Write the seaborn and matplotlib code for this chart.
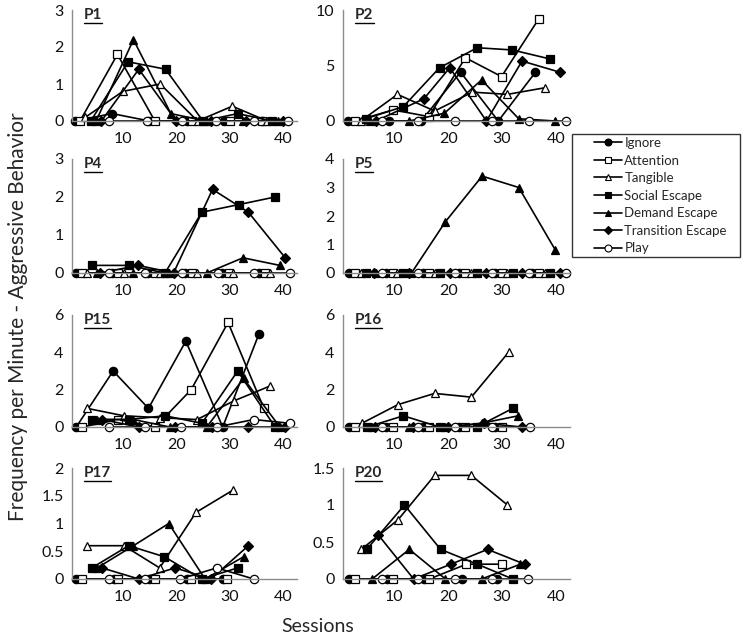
import matplotlib
matplotlib.use("Agg")
import matplotlib.pyplot as plt
from matplotlib.lines import Line2D
from matplotlib.patches import Rectangle
import seaborn as sns
import pandas as pd

# Conditions, legend order
CONDITIONS = ["Ignore", "Attention", "Tangible", "Social Escape",
              "Demand Escape", "Transition Escape", "Play"]

# marker, face colour
STYLE = {
    "Ignore": ("o", "black"),
    "Attention": ("s", "white"),
    "Tangible": ("^", "white"),
    "Social Escape": ("s", "black"),
    "Demand Escape": ("^", "black"),
    "Transition Escape": ("D", "black"),
    "Play": ("o", "white"),
}

# --- data per participant: condition -> (sessions, rate) ---
P1 = {
    "Ignore": ([1, 8, 15, 22, 29, 36], [0, 0.2, 0, 0, 0, 0]),
    "Attention": ([2, 9, 16, 23, 30, 36], [0, 1.8, 0, 0, 0, 0]),
    "Tangible": ([3, 10, 17, 24, 30.5, 37], [0.1, 0.8, 1.0, 0, 0.4, 0]),
    "Social Escape": ([4, 11, 18, 25, 31.5, 38], [0, 1.6, 1.4, 0, 0.2, 0]),
    "Demand Escape": ([5, 12, 19, 25.5, 32.5, 39], [0, 2.2, 0.2, 0, 0, 0]),
    "Transition Escape": ([6, 13, 20, 26.5, 33, 40], [0, 1.4, 0, 0, 0, 0]),
    "Play": ([7.5, 14.5, 21, 27.5, 34.5, 41], [0, 0, 0, 0, 0, 0]),
}
P2 = {
    "Ignore": ([1.5, 9, 15, 22.3, 29.3, 36.2], [0, 0, 0, 4.4, 0, 4.4]),
    "Attention": ([2.8, 9.8, 16.4, 23.2, 29.9, 36.8], [0, 1.0, 0.4, 5.7, 4.0, 9.2]),
    "Tangible": ([3.8, 10.6, 17.5, 24.5, 31, 38], [0, 2.4, 0.9, 2.6, 2.4, 3.0]),
    "Social Escape": ([4.7, 11.7, 18.4, 25.4, 31.9, 38.8], [0.2, 1.3, 4.8, 6.6, 6.4, 5.6]),
    "Demand Escape": ([5.6, 12.8, 19.3, 26.2, 33.1, 39.9], [0, 0, 0.7, 3.7, 0.2, 0]),
    "Transition Escape": ([6.6, 15.5, 20.3, 27.1, 33.7, 40.7], [0, 2.0, 4.8, 0, 5.4, 4.4]),
    "Play": ([7.8, 14.5, 21.3, 28.2, 35, 41.8], [0, 0, 0, 0, 0, 0]),
}
P4 = {
    "Ignore": ([1.3, 8, 14.8, 21.7, 28.5, 35.4], [0, 0, 0, 0, 0, 0]),
    "Attention": ([2.4, 9.2, 16.1, 22.9, 29.8, 36.6], [0, 0, 0, 0, 0, 0]),
    "Tangible": ([3.3, 10.2, 17, 23.9, 30.7, 37.6], [0, 0, 0, 0, 0, 0]),
    "Social Escape": ([4.2, 11.1, 17.9, 24.8, 31.7, 38.5], [0.2, 0.2, 0, 1.6, 1.8, 2.0]),
    "Demand Escape": ([5.2, 12, 18.6, 25.7, 32.5, 39.4], [0, 0, 0, 0, 0.4, 0.2]),
    "Transition Escape": ([5.8, 12.9, 19.5, 26.8, 33.5, 40.4], [0, 0.2, 0, 2.2, 1.6, 0.4]),
    "Play": ([7.4, 14.2, 21, 27.9, 34.5, 41.3], [0, 0, 0, 0, 0, 0]),
}
P5 = {
    "Ignore": ([1.6, 8.4, 15.3, 22, 28.7, 35.6], [0, 0, 0, 0, 0, 0]),
    "Attention": ([2.8, 9.7, 16.5, 23.2, 29.9, 36.8], [0, 0, 0, 0, 0, 0]),
    "Tangible": ([3.8, 10.6, 17.5, 24.3, 31, 38], [0, 0, 0, 0, 0, 0]),
    "Social Escape": ([4.7, 11.7, 18.4, 25.3, 32, 38.8], [0, 0, 0, 0, 0, 0]),
    "Demand Escape": ([6.6, 13.2, 19.5, 26.3, 33.1, 39.9], [0, 0, 1.8, 3.4, 3.0, 0.8]),
    "Transition Escape": ([6.2, 12.8, 20.3, 27.1, 33.7, 40.7], [0, 0, 0, 0, 0, 0]),
    "Play": ([7.8, 14.5, 21.3, 28.2, 35, 41.8], [0, 0, 0, 0, 0, 0]),
}
P15 = {
    "Ignore": ([1.3, 8.2, 14.8, 21.8, 28.7, 35.5], [0, 3.0, 1.0, 4.6, 0, 5.0]),
    "Attention": ([2.4, 9.2, 16.1, 22.8, 29.7, 36.4], [0, 0.4, 0, 2.0, 5.6, 1.0]),
    "Tangible": ([3.3, 10.2, 16.9, 23.9, 30.8, 37.6], [1.0, 0.6, 0.5, 0.4, 1.4, 2.2]),
    "Social Escape": ([4.2, 11.1, 17.9, 24.8, 31.5, 38.5], [0.4, 0.4, 0.6, 0.2, 3.0, 0]),
    "Demand Escape": ([5.2, 12, 18.8, 25.7, 32.6, 39.4], [0.4, 0.4, 0, 0, 2.6, 0]),
    "Transition Escape": ([6.1, 13, 19.8, 26.7, 33.5, 40.4], [0.4, 0, 0, 0, 0, 0]),
    "Play": ([7.4, 14.1, 20.9, 27.6, 34.5, 41.3], [0, 0, 0, 0, 0.4, 0.2]),
}
P16 = {
    "Ignore": ([1.6, 8.4, 15.3, 22, 28.7], [0, 0, 0, 0, 0]),
    "Attention": ([2.8, 9.7, 16.5, 23.2, 29.9], [0, 0, 0, 0, 0]),
    "Tangible": ([4, 10.7, 17.5, 24.3, 31.2], [0.2, 1.2, 1.8, 1.6, 4.0]),
    "Social Escape": ([5, 11.7, 18.4, 25.3, 32], [0, 0.6, 0, 0, 1.0]),
    "Demand Escape": ([5.9, 12.8, 19.5, 26.2, 33], [0, 0, 0, 0.2, 0.6]),
    "Transition Escape": ([6.4, 13.4, 20, 26.7, 33.7], [0, 0, 0, 0.2, 0]),
    "Play": ([7.8, 14.5, 21.2, 28.1, 35.1], [0, 0, 0, 0, 0]),
}
P17 = {
    "Ignore": ([1.3, 8.3, 15, 22, 28.7], [0, 0, 0, 0, 0]),
    "Attention": ([2.4, 9.2, 16.1, 22.7, 29.5], [0, 0, 0, 0, 0]),
    "Tangible": ([3.3, 10.2, 16.9, 23.7, 30.6], [0.6, 0.6, 0.2, 1.2, 1.6]),
    "Social Escape": ([4.2, 11.1, 17.8, 24.8, 31.5], [0.2, 0.6, 0.4, 0, 0.2]),
    "Demand Escape": ([5.2, 12, 18.6, 25.4, 32.6], [0.2, 0.6, 1.0, 0, 0.4]),
    "Transition Escape": ([6.1, 13, 19.8, 26.5, 33.5], [0.2, 0, 0.2, 0, 0.6]),
    "Play": ([7.4, 14.1, 20.7, 27.6, 34.5], [0, 0, 0, 0.2, 0]),
}
P20 = {
    "Ignore": ([1.6, 8.6, 15.5, 22.5, 29.1], [0, 0, 0, 0, 0]),
    "Attention": ([2.8, 9.7, 16.5, 23.4, 29.9], [0, 0, 0, 0.2, 0.2]),
    "Tangible": ([3.9, 10.7, 17.5, 24.3, 31], [0.4, 0.8, 1.4, 1.4, 1.0]),
    "Social Escape": ([4.9, 11.9, 18.6, 25.4, 32], [0.4, 1.0, 0.4, 0.2, 0]),
    "Demand Escape": ([5.9, 12.8, 19.5, 26.2, 33.4], [0, 0.4, 0, 0, 0.2]),
    "Transition Escape": ([7, 13.6, 20.5, 27.3, 34.2], [0.6, 0, 0.2, 0.4, 0.2]),
    "Play": ([7.8, 14.5, 21.3, 28.2, 34.9], [0, 0, 0, 0, 0]),
}

PANELS = ["P1", "P2", "P4", "P5", "P15", "P16", "P17", "P20"]
PANEL_DATA = [P1, P2, P4, P5, P15, P16, P17, P20]
Y_TICKS = [[0, 1, 2, 3], [0, 5, 10], [0, 1, 2, 3], [0, 1, 2, 3, 4],
           [0, 2, 4, 6], [0, 2, 4, 6], [0, 0.5, 1, 1.5, 2], [0, 0.5, 1, 1.5]]
Y_LABELS = [["0", "1", "2", "3"], ["0", "5", "10"], ["0", "1", "2", "3"],
            ["0", "1", "2", "3", "4"], ["0", "2", "4", "6"], ["0", "2", "4", "6"],
            ["0", "0.5", "1", "1.5", "2"], ["0", "0.5", "1", "1.5"]]
X_TICKS = [10, 20, 30, 40]

sns.set_style("white")
plt.rcParams['font.family'] = ['Lato', 'DejaVu Sans']

W, H = 750, 638
fig = plt.figure(figsize=(W / 100, H / 100), dpi=100)

# pixel boxes (left, right) for columns and (top, bottom) for rows
cols = [(72, 297), (343, 570)]
rows = [(10, 121), (159, 273), (315, 427), (468, 579)]

for i, (name, data) in enumerate(zip(PANELS, PANEL_DATA)):
    l, r = cols[i % 2]
    t, b = rows[i // 2]
    ax = fig.add_axes([l / W, 1 - b / H, (r - l) / W, (b - t) / H])
    for cond in CONDITIONS:
        xs, ys = data[cond]
        df = pd.DataFrame({"session": xs, "rate": ys})
        mk, fc = STYLE[cond]
        sns.lineplot(data=df, x="session", y="rate", ax=ax, estimator=None, sort=False,
                     color="black", linewidth=1.2, marker=mk,
                     markersize=5 if mk == "D" else 6,
                     markerfacecolor=fc, markeredgecolor="black", markeredgewidth=0.9,
                     clip_on=False)
    yt = Y_TICKS[i]
    ax.set_ylim(0, yt[-1])
    ax.set_xlim(0.5, 42.6)
    ax.set_yticks(yt)
    ax.set_yticklabels(Y_LABELS[i])
    ax.set_xticks(X_TICKS)
    ax.set_xlabel("")
    ax.set_ylabel("")
    for s in ["top", "right"]:
        ax.spines[s].set_visible(False)
    for s in ["left", "bottom"]:
        ax.spines[s].set_color("#8c8c8c")
        ax.spines[s].set_linewidth(1.0)
    ax.tick_params(axis="both", direction="out", length=3, width=0.8,
                   color="#8c8c8c", labelsize=11.5, labelcolor="#111111", pad=3)
    ax.tick_params(axis="x", pad=5)
    # underlined panel label
    txt = ax.text(0.053, 0.955, name, transform=ax.transAxes, fontsize=11,
                  fontweight="bold", ha="left", va="center")
    fig.canvas.draw()
    bb = txt.get_window_extent().transformed(ax.transAxes.inverted())
    ax.plot([bb.x0, bb.x1], [bb.y0 - 0.01, bb.y0 - 0.01], transform=ax.transAxes,
            color="black", linewidth=1.0, clip_on=False)

# legend box drawn separately so the entries sit inset like the original
fig.patches.append(Rectangle((572 / W, 1 - 257 / H), 168 / W, 123 / H,
                             transform=fig.transFigure, fill=False,
                             edgecolor="#333333", linewidth=1.0))
handles = [Line2D([0], [0], color="black", linewidth=1.2, marker=STYLE[c][0],
                  markersize=4 if STYLE[c][0] == "D" else 5,
                  markerfacecolor=STYLE[c][1], markeredgecolor="black",
                  markeredgewidth=0.8, label=c) for c in CONDITIONS]
fig.legend(handles=handles, loc="upper left",
           bbox_to_anchor=(594 / W, 1 - 137 / H),
           frameon=False, fontsize=9.5, handlelength=2.1,
           handletextpad=0.2, labelspacing=0.42, borderpad=0,
           borderaxespad=0)

fig.text(18 / W, 1 - 317 / H, "Frequency per Minute - Aggressive Behavior",
         rotation=90, ha="center", va="center", fontsize=15)
fig.text(318 / W, 1 - 627 / H, "Sessions", ha="center", va="center", fontsize=14)

fig.savefig("out.png", dpi=100)
